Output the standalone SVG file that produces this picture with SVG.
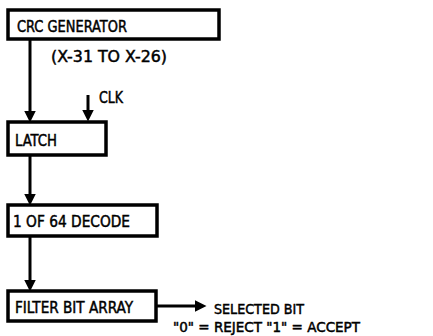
<svg xmlns="http://www.w3.org/2000/svg" width="433" height="336" viewBox="0 0 433 336">
<style>
.box{fill:#fff;stroke:#000;stroke-width:3.5}
.t{font-family:"DejaVu Sans Condensed","Liberation Sans",sans-serif;font-size:15.5px;fill:#000;stroke:#000;stroke-width:0.45}
.s{font-size:14px}
.c{stroke:#000;stroke-width:3;fill:none}
</style>
<defs>
<marker id="ah" markerUnits="userSpaceOnUse" markerWidth="13" markerHeight="12" refX="5" refY="5.5" orient="auto" viewBox="0 0 12 11">
<path d="M0,0 L11,5.5 L0,11 z" fill="#000"/>
</marker>
</defs>
<rect width="433" height="336" fill="#fff"/>
<g id="connectors">
<line class="c" x1="30" y1="39" x2="30" y2="116" marker-end="url(#ah)"/>
<line class="c" x1="88" y1="95" x2="88" y2="115" marker-end="url(#ah)"/>
<line class="c" x1="30" y1="155" x2="30" y2="199" marker-end="url(#ah)"/>
<line class="c" x1="30" y1="236" x2="30" y2="285" marker-end="url(#ah)"/>
<line class="c" x1="156" y1="306" x2="200" y2="306" marker-end="url(#ah)"/>
</g>
<g id="crc">
<rect class="box" x="8" y="10" width="211" height="29"/>
<text class="t" x="17" y="32" textLength="110" lengthAdjust="spacingAndGlyphs">CRC GENERATOR</text>
<text class="t" x="51" y="62" textLength="116" lengthAdjust="spacingAndGlyphs">(X-31 TO X-26)</text>
</g>
<g id="clk">
<text class="t" x="99" y="103" textLength="24" lengthAdjust="spacingAndGlyphs">CLK</text>
</g>
<g id="latch">
<rect class="box" x="8" y="122" width="98" height="33"/>
<text class="t" x="15" y="146" textLength="42" lengthAdjust="spacingAndGlyphs">LATCH</text>
</g>
<g id="decode">
<rect class="box" x="8" y="205" width="149" height="31"/>
<text class="t" x="13" y="227" textLength="117" lengthAdjust="spacingAndGlyphs">1 OF 64 DECODE</text>
</g>
<g id="filter">
<rect class="box" x="8" y="291" width="148" height="30"/>
<text class="t" x="15" y="313" textLength="118" lengthAdjust="spacingAndGlyphs">FILTER BIT ARRAY</text>
</g>
<g id="output">
<text class="t s" x="214" y="314" textLength="90" lengthAdjust="spacingAndGlyphs">SELECTED BIT</text>
<text class="t s" x="173" y="332" textLength="187" lengthAdjust="spacingAndGlyphs">"0" = REJECT "1" = ACCEPT</text>
</g>
</svg>
